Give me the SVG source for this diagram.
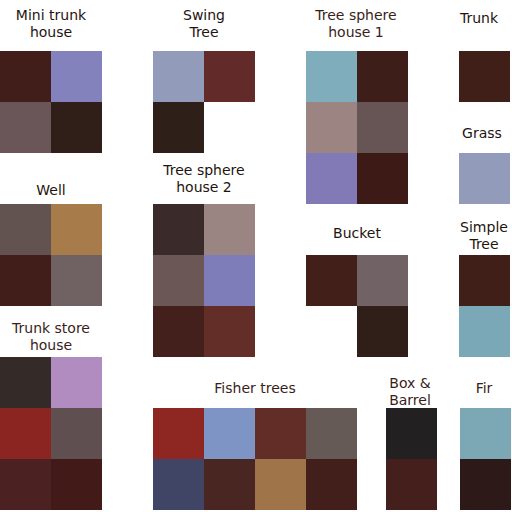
<svg xmlns="http://www.w3.org/2000/svg" width="512" height="512" viewBox="0 0 512 512">
<style>
text{font-family:"DejaVu Sans",sans-serif;font-size:14px;text-anchor:middle;fill:#1e1410}
.b{fill:#3a1e1a}
</style>
<rect width="512" height="512" fill="#fff"/>
<g id="mini-trunk-house">
<text x="51" y="20">Mini trunk</text><text x="51" y="37">house</text>
<rect x="0" y="51" width="51" height="51" fill="#421e1a"/>
<rect x="51" y="51" width="51" height="51" fill="#8482bc"/>
<rect x="0" y="102" width="51" height="51" fill="#6a5658"/>
<rect x="51" y="102" width="51" height="51" fill="#301e18"/>
</g>
<g id="swing-tree">
<text x="204" y="20">Swing</text><text x="204" y="37">Tree</text>
<rect x="153" y="51" width="51" height="51" fill="#939bbb"/>
<rect x="204" y="51" width="51" height="51" fill="#622b29"/>
<rect x="153" y="102" width="51" height="51" fill="#2f1f19"/>
</g>
<g id="tree-sphere-house-1">
<text class="b" x="356" y="20">Tree sphere</text><text class="b" x="356" y="37">house 1</text>
<rect x="306" y="51" width="51" height="51" fill="#80adbb"/>
<rect x="357" y="51" width="51" height="51" fill="#3e1e18"/>
<rect x="306" y="102" width="51" height="51" fill="#9b8482"/>
<rect x="357" y="102" width="51" height="51" fill="#675454"/>
<rect x="306" y="153" width="51" height="51" fill="#827ab6"/>
<rect x="357" y="153" width="51" height="51" fill="#3e1a17"/>
</g>
<g id="trunk">
<text x="479" y="23">Trunk</text>
<rect x="459" y="51" width="51" height="51" fill="#411f19"/>
</g>
<g id="grass">
<text x="482" y="138">Grass</text>
<rect x="459" y="153" width="51" height="51" fill="#939bba"/>
</g>
<g id="well">
<text x="51" y="195">Well</text>
<rect x="0" y="204" width="51" height="51" fill="#625250"/>
<rect x="51" y="204" width="51" height="51" fill="#a87b4a"/>
<rect x="0" y="255" width="51" height="51" fill="#421e1a"/>
<rect x="51" y="255" width="51" height="51" fill="#706163"/>
</g>
<g id="tree-sphere-house-2">
<text x="204" y="175">Tree sphere</text><text x="204" y="192">house 2</text>
<rect x="153" y="204" width="51" height="51" fill="#3a2a29"/>
<rect x="204" y="204" width="51" height="51" fill="#9a8583"/>
<rect x="153" y="255" width="51" height="51" fill="#6a5756"/>
<rect x="204" y="255" width="51" height="51" fill="#7f7cba"/>
<rect x="153" y="306" width="51" height="51" fill="#43201c"/>
<rect x="204" y="306" width="51" height="51" fill="#632e27"/>
</g>
<g id="bucket">
<text x="357" y="238">Bucket</text>
<rect x="306" y="255" width="51" height="51" fill="#421f19"/>
<rect x="357" y="255" width="51" height="51" fill="#716265"/>
<rect x="357" y="306" width="51" height="51" fill="#301f19"/>
</g>
<g id="simple-tree">
<text x="484" y="232">Simple</text><text x="484" y="249">Tree</text>
<rect x="459" y="255" width="51" height="51" fill="#411f19"/>
<rect x="459" y="306" width="51" height="51" fill="#7ba8b6"/>
</g>
<g id="trunk-store-house">
<text class="b" x="51" y="333">Trunk store</text><text class="b" x="51" y="350">house</text>
<rect x="0" y="357" width="51" height="51" fill="#342a28"/>
<rect x="51" y="357" width="51" height="51" fill="#b08cc0"/>
<rect x="0" y="408" width="51" height="51" fill="#8b2522"/>
<rect x="51" y="408" width="51" height="51" fill="#5f4f50"/>
<rect x="0" y="459" width="51" height="51" fill="#4b2221"/>
<rect x="51" y="459" width="51" height="51" fill="#421a18"/>
</g>
<g id="fisher-trees">
<text class="b" x="255" y="393">Fisher trees</text>
<rect x="153" y="408" width="51" height="51" fill="#8e2622"/>
<rect x="204" y="408" width="51" height="51" fill="#7d94c4"/>
<rect x="255" y="408" width="51" height="51" fill="#622d27"/>
<rect x="306" y="408" width="51" height="51" fill="#655a56"/>
<rect x="153" y="459" width="51" height="51" fill="#404465"/>
<rect x="204" y="459" width="51" height="51" fill="#4a2622"/>
<rect x="255" y="459" width="51" height="51" fill="#9e7448"/>
<rect x="306" y="459" width="51" height="51" fill="#431f1b"/>
</g>
<g id="box-barrel">
<text class="b" x="410" y="388">Box &amp;</text><text class="b" x="410" y="405">Barrel</text>
<rect x="386" y="408" width="51" height="51" fill="#222020"/>
<rect x="386" y="459" width="51" height="51" fill="#441f1b"/>
</g>
<g id="fir">
<text class="b" x="484" y="393">Fir</text>
<rect x="460" y="408" width="51" height="51" fill="#7ca7b5"/>
<rect x="460" y="459" width="51" height="51" fill="#2d1a18"/>
</g>
<g id="connectors"/>
</svg>
